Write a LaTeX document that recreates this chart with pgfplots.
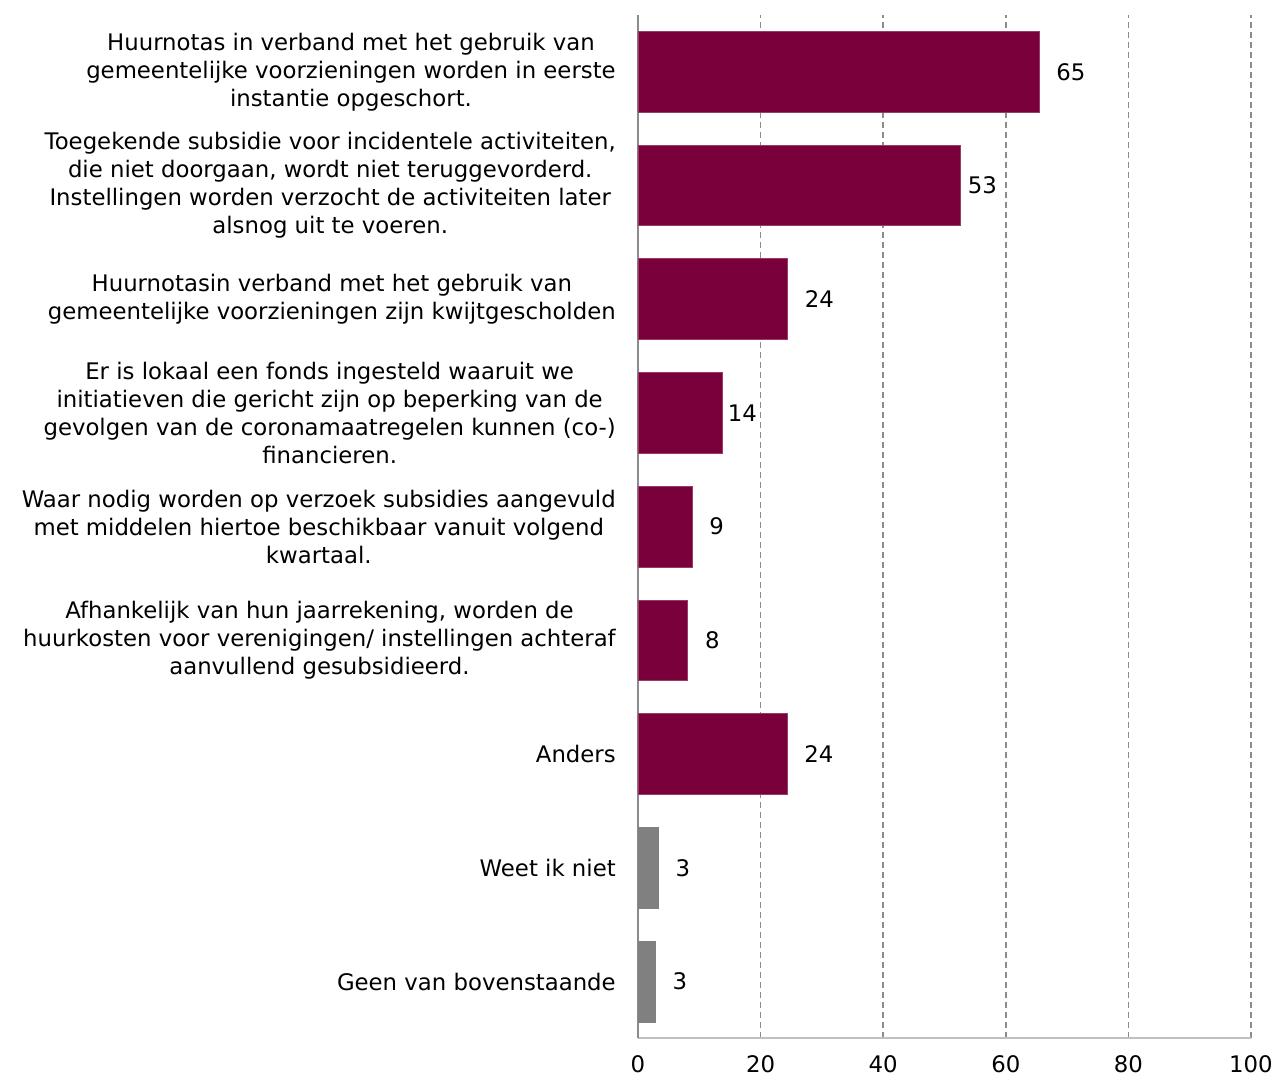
\documentclass[border=0pt]{standalone}
\usepackage{fontspec}
\setmainfont{DejaVu Sans}
\usepackage{pgfplots}
\usepackage{pgfplotstable}
\pgfplotsset{compat=1.18}

\definecolor{maroon}{HTML}{7A003C}
\definecolor{maroonedge}{HTML}{9A3A68}
\definecolor{greybar}{HTML}{808080}
\definecolor{gridgrey}{HTML}{8C8C8C}
\definecolor{axisgrey}{HTML}{8C8C8C}
\definecolor{basegrey}{HTML}{C0C0C0}

\newcommand{\lblfont}{\fontsize{17.1pt}{21pt}\selectfont}

% y = position from bottom, val = bar length, lbl = printed value, sh = gap to label (pt)
\pgfplotstableread{
y val lbl sh
8 65.4 65 12.75
7 52.6 53 5.25
6 24.4 24 12.75
5 13.8 14 3.75
4 8.8 9 12.75
3 8.1 8 12.75
2 24.3 24 12.75
}\maroondata

\pgfplotstableread{
y val lbl sh
1 3.3 3 12.75
0 2.8 3 12.75
}\greydata

\begin{document}
\begin{tikzpicture}
\useasboundingbox (-478.5pt,-30.5pt) rectangle (478.5pt,778.8pt);
\begin{axis}[
  scale only axis,
  width=459.75pt, height=767.6pt,
  xmin=0, xmax=100,
  ymin=-0.5, ymax=8.5,
  axis x line*=bottom,
  axis y line*=left,
  x axis line style={draw=basegrey, line width=1.5pt},
  y axis line style={draw=axisgrey, line width=1.5pt},
  xtick={0,20,...,100},
  ytick={0,...,8},
  major tick length=0pt,
  ytick style={draw=none},
  xmajorgrids=true,
  grid style={draw=gridgrey, line width=1.1pt, dash pattern=on 5pt off 2.5pt},
  /pgf/number format/assume math mode=true,
  tick label style={font=\lblfont},
  xticklabel style={anchor=north, inner sep=0pt, yshift=-12.8pt},
  yticklabel style={anchor=east, inner sep=0pt, xshift=-16.5pt, align=center},
  yticklabels={
    {Geen van bovenstaande},
    {Weet ik niet},
    {Anders},
    {Afhankelijk van hun jaarrekening, worden de\\huurkosten voor verenigingen/ instellingen achteraf\\aanvullend gesubsidieerd.},
    {Waar nodig worden op verzoek subsidies aangevuld\\met middelen hiertoe beschikbaar vanuit volgend\\kwartaal.},
    {Er is lokaal een fonds ingesteld waaruit we\\initiatieven die gericht zijn op beperking van de\\gevolgen van de coronamaatregelen kunnen (co-)\\financieren.},
    {Huurnotasin verband met het gebruik van\\gemeentelijke voorzieningen zijn kwijtgescholden},
    {Toegekende subsidie voor incidentele activiteiten,\\die niet doorgaan, wordt niet teruggevorderd.\\Instellingen worden verzocht de activiteiten later\\alsnog uit te voeren.},
    {Huurnotas in verband met het gebruik van\\gemeentelijke voorzieningen worden in eerste\\instantie opgeschort.}
  },
  xbar,
  bar width=0.71,
  bar shift=0pt,
  point meta=explicit symbolic,
  nodes near coords,
  visualization depends on={\thisrow{sh} \as \lblsh},
  every node near coord/.append style={anchor=west, inner sep=0pt, xshift=\lblsh pt, font=\lblfont, text=black},
]
\addplot[fill=maroon, draw=maroonedge, line width=0.6pt]
  table[x=val, y=y, meta=lbl] {\maroondata};
\addplot[fill=greybar, draw=greybar, line width=0.6pt]
  table[x=val, y=y, meta=lbl] {\greydata};
\end{axis}
\end{tikzpicture}
\end{document}
